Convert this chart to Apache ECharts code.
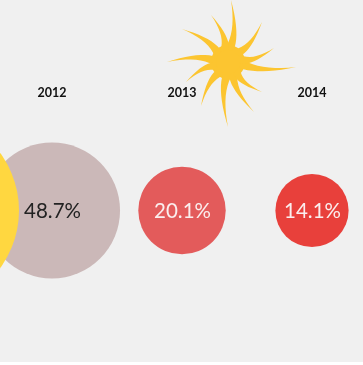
<!DOCTYPE html>
<html><head><meta charset="utf-8">
<style>html,body{margin:0;padding:0;background:#fff}#c{width:363px;height:362px}</style>
<script src="https://cdn.jsdelivr.net/npm/echarts@6/dist/echarts.min.js"></script>
</head><body><div id="c"></div>
<script>
const years = ['2011','2012','2013','2014'];
const shares = [99.0,48.7,20.1,14.1];
const fills = ['#ffd740','#cbb8b8','#e35b5b','#e8403b'];
const labelColors = ['#222222','#222222','#fbeeee','#fbeeee'];
// sun decoration: ray tips relative to sun centre
const sunTips = [[3,-62],[-17,-47],[-46,-33],[-61,0],[-42,20],[-27,44],[0,65],[26,50],[34,30],[68,5],[46,-14],[34,-40]];

function quad(a,c,b,out){
  for(let t=0;t<=1.001;t+=0.1){
    const s=1-t;
    out.push([s*s*a[0]+2*s*t*c[0]+t*t*b[0], s*s*a[1]+2*s*t*c[1]+t*t*b[1]]);
  }
}
function sunRays(cx,cy,core){
  return sunTips.map(([tx,ty])=>{
    const len=Math.hypot(tx,ty),ux=tx/len,uy=ty/len;
    const vx=-uy,vy=ux;
    const w=5,r=core*0.7,m=0.45*len;
    const b1=[cx+ux*r-vx*w,cy+uy*r-vy*w];
    const b2=[cx+ux*r+vx*w,cy+uy*r+vy*w];
    const tip=[cx+tx,cy+ty];
    const pts=[];
    quad(b1,[cx+ux*m+vx*7,cy+uy*m+vy*7],tip,pts);
    quad(tip,[cx+ux*m+vx*11,cy+uy*m+vy*11],b2,pts);
    return {type:'polygon',shape:{points:pts},style:{fill:'#fcc530'},z:10};
  });
}

const chart = echarts.init(document.getElementById('c'));
chart.setOption({
  animation:false,
  backgroundColor:'#f0f0f0',
  grid:{left:-143,width:520,top:101,height:219,outerBoundsMode:'none'},
  xAxis:{type:'category',position:'top',data:years,
    axisLine:{show:false},axisTick:{show:false},splitLine:{show:false},
    axisLabel:{show:true,interval:0,margin:2,fontFamily:'Lato',fontWeight:'bold',fontSize:12.5,color:'#111'}},
  yAxis:{type:'category',data:['share'],show:false},
  graphic:[{type:'circle',shape:{cx:228,cy:62,r:17},style:{fill:'#fcc530'},z:10}].concat(sunRays(228,62,17)),
  series:[{
    type:'scatter',
    clip:false,
    // drawn last to first, so the earliest year sits on top
    data:years.map((y,i)=>({value:[y,'share',shares[i]],
      itemStyle:{color:fills[i],opacity:1},
      label:{color:labelColors[i]}})).reverse(),
    symbol:'circle',
    symbolSize:v=>Math.sqrt(v[2])*19.5,
    label:{show:true,position:'inside',offset:[0.5,1],formatter:p=>p.value[2].toFixed(1)+'%',fontFamily:'Lato',fontSize:20.5},
    emphasis:{disabled:true}
  }]
});
</script></body></html>
